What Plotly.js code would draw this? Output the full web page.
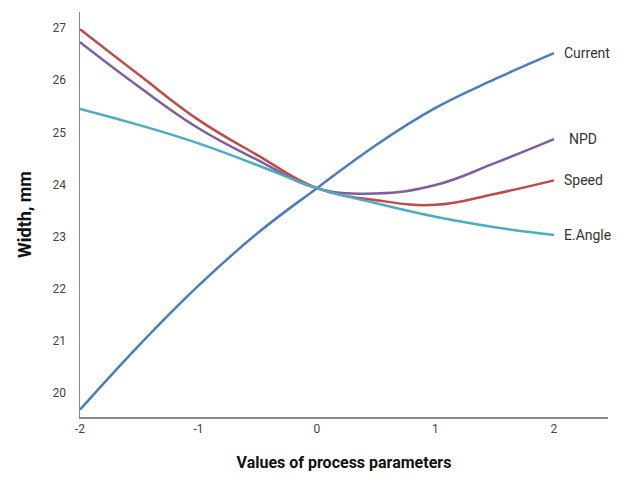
<!DOCTYPE html>
<html>
<head>
<meta charset="utf-8">
<script src="https://cdn.plot.ly/plotly-3.0.1.min.js"></script>
<style>html,body{margin:0;padding:0;background:#fff;}#chart{width:618px;height:481px;}</style>
</head>
<body>
<div id="chart"></div>
<script>
const xValues = [-2, -1.5, -1, -0.5, 0, 0.5, 1, 1.5, 2];
const seriesNames = ["Current", "NPD", "Speed", "E.Angle"];
const current = [19.68, 20.92, 22.06, 23.07, 23.93, 24.76, 25.47, 26.02, 26.52];
const npd     = [26.73, 25.87, 25.08, 24.47, 23.93, 23.83, 23.99, 24.41, 24.87];
const speed   = [26.98, 26.10, 25.24, 24.56, 23.93, 23.70, 23.61, 23.82, 24.08];
const eAngle  = [25.45, 25.14, 24.79, 24.37, 23.93, 23.64, 23.38, 23.18, 23.03];
const xTicks = [-2, -1, 0, 1, 2];
const yTicks = [20, 21, 22, 23, 24, 25, 26, 27];

const seriesValues = [current, npd, speed, eAngle];
const colors = ["#4a7ebb", "#7d5fa0", "#be4b48", "#4bacc6"];

const traces = seriesValues.map((ys, i) => ({
  x: xValues, y: ys, type: "scatter", mode: "lines", name: seriesNames[i],
  line: {color: colors[i], width: 2.5, shape: "spline", smoothing: 1.2},
  hoverinfo: "skip"
}));

const annotations = seriesValues.map((ys, i) => ({
  x: xValues[xValues.length - 1], y: ys[ys.length - 1], xref: "x", yref: "y",
  text: seriesNames[i], showarrow: false, xanchor: "left", yanchor: "middle",
  xshift: seriesNames[i] === "NPD" ? 13 : 8,
  font: {family: "Roboto, 'Liberation Sans', sans-serif", size: 14, color: "#333"}
}));

const layout = {
  width: 618, height: 481,
  margin: {l: 80, r: 10, t: 12, b: 64},
  paper_bgcolor: "#fff", plot_bgcolor: "#fff",
  showlegend: false,
  xaxis: {
    range: [-2, 2.456], tickvals: xTicks, ticktext: xTicks.map(String),
    showgrid: false, zeroline: false, showline: true, linecolor: "#888", linewidth: 1.5,
    ticks: "", ticklabelstandoff: 0,
    tickfont: {family: "Roboto, 'Liberation Sans', sans-serif", size: 12, color: "#444"},
    title: {text: "Values of process parameters", standoff: 22,
      font: {family: "Roboto, 'Liberation Sans', sans-serif", size: 16, color: "#111", weight: "bold"}}
  },
  yaxis: {
    range: [19.54, 27.31], tickvals: yTicks, ticktext: yTicks.map(String),
    showgrid: false, zeroline: false, showline: true, linecolor: "#888", linewidth: 1.5,
    ticks: "", ticklabelstandoff: 10,
    tickfont: {family: "Roboto, 'Liberation Sans', sans-serif", size: 12, color: "#444"},
    title: {text: "Width, mm", standoff: 16,
      font: {family: "Roboto, 'Liberation Sans', sans-serif", size: 18, color: "#111", weight: "bold"}}
  },
  annotations: annotations
};

Plotly.newPlot("chart", traces, layout, {staticPlot: true, displayModeBar: false});
</script>
</body>
</html>
